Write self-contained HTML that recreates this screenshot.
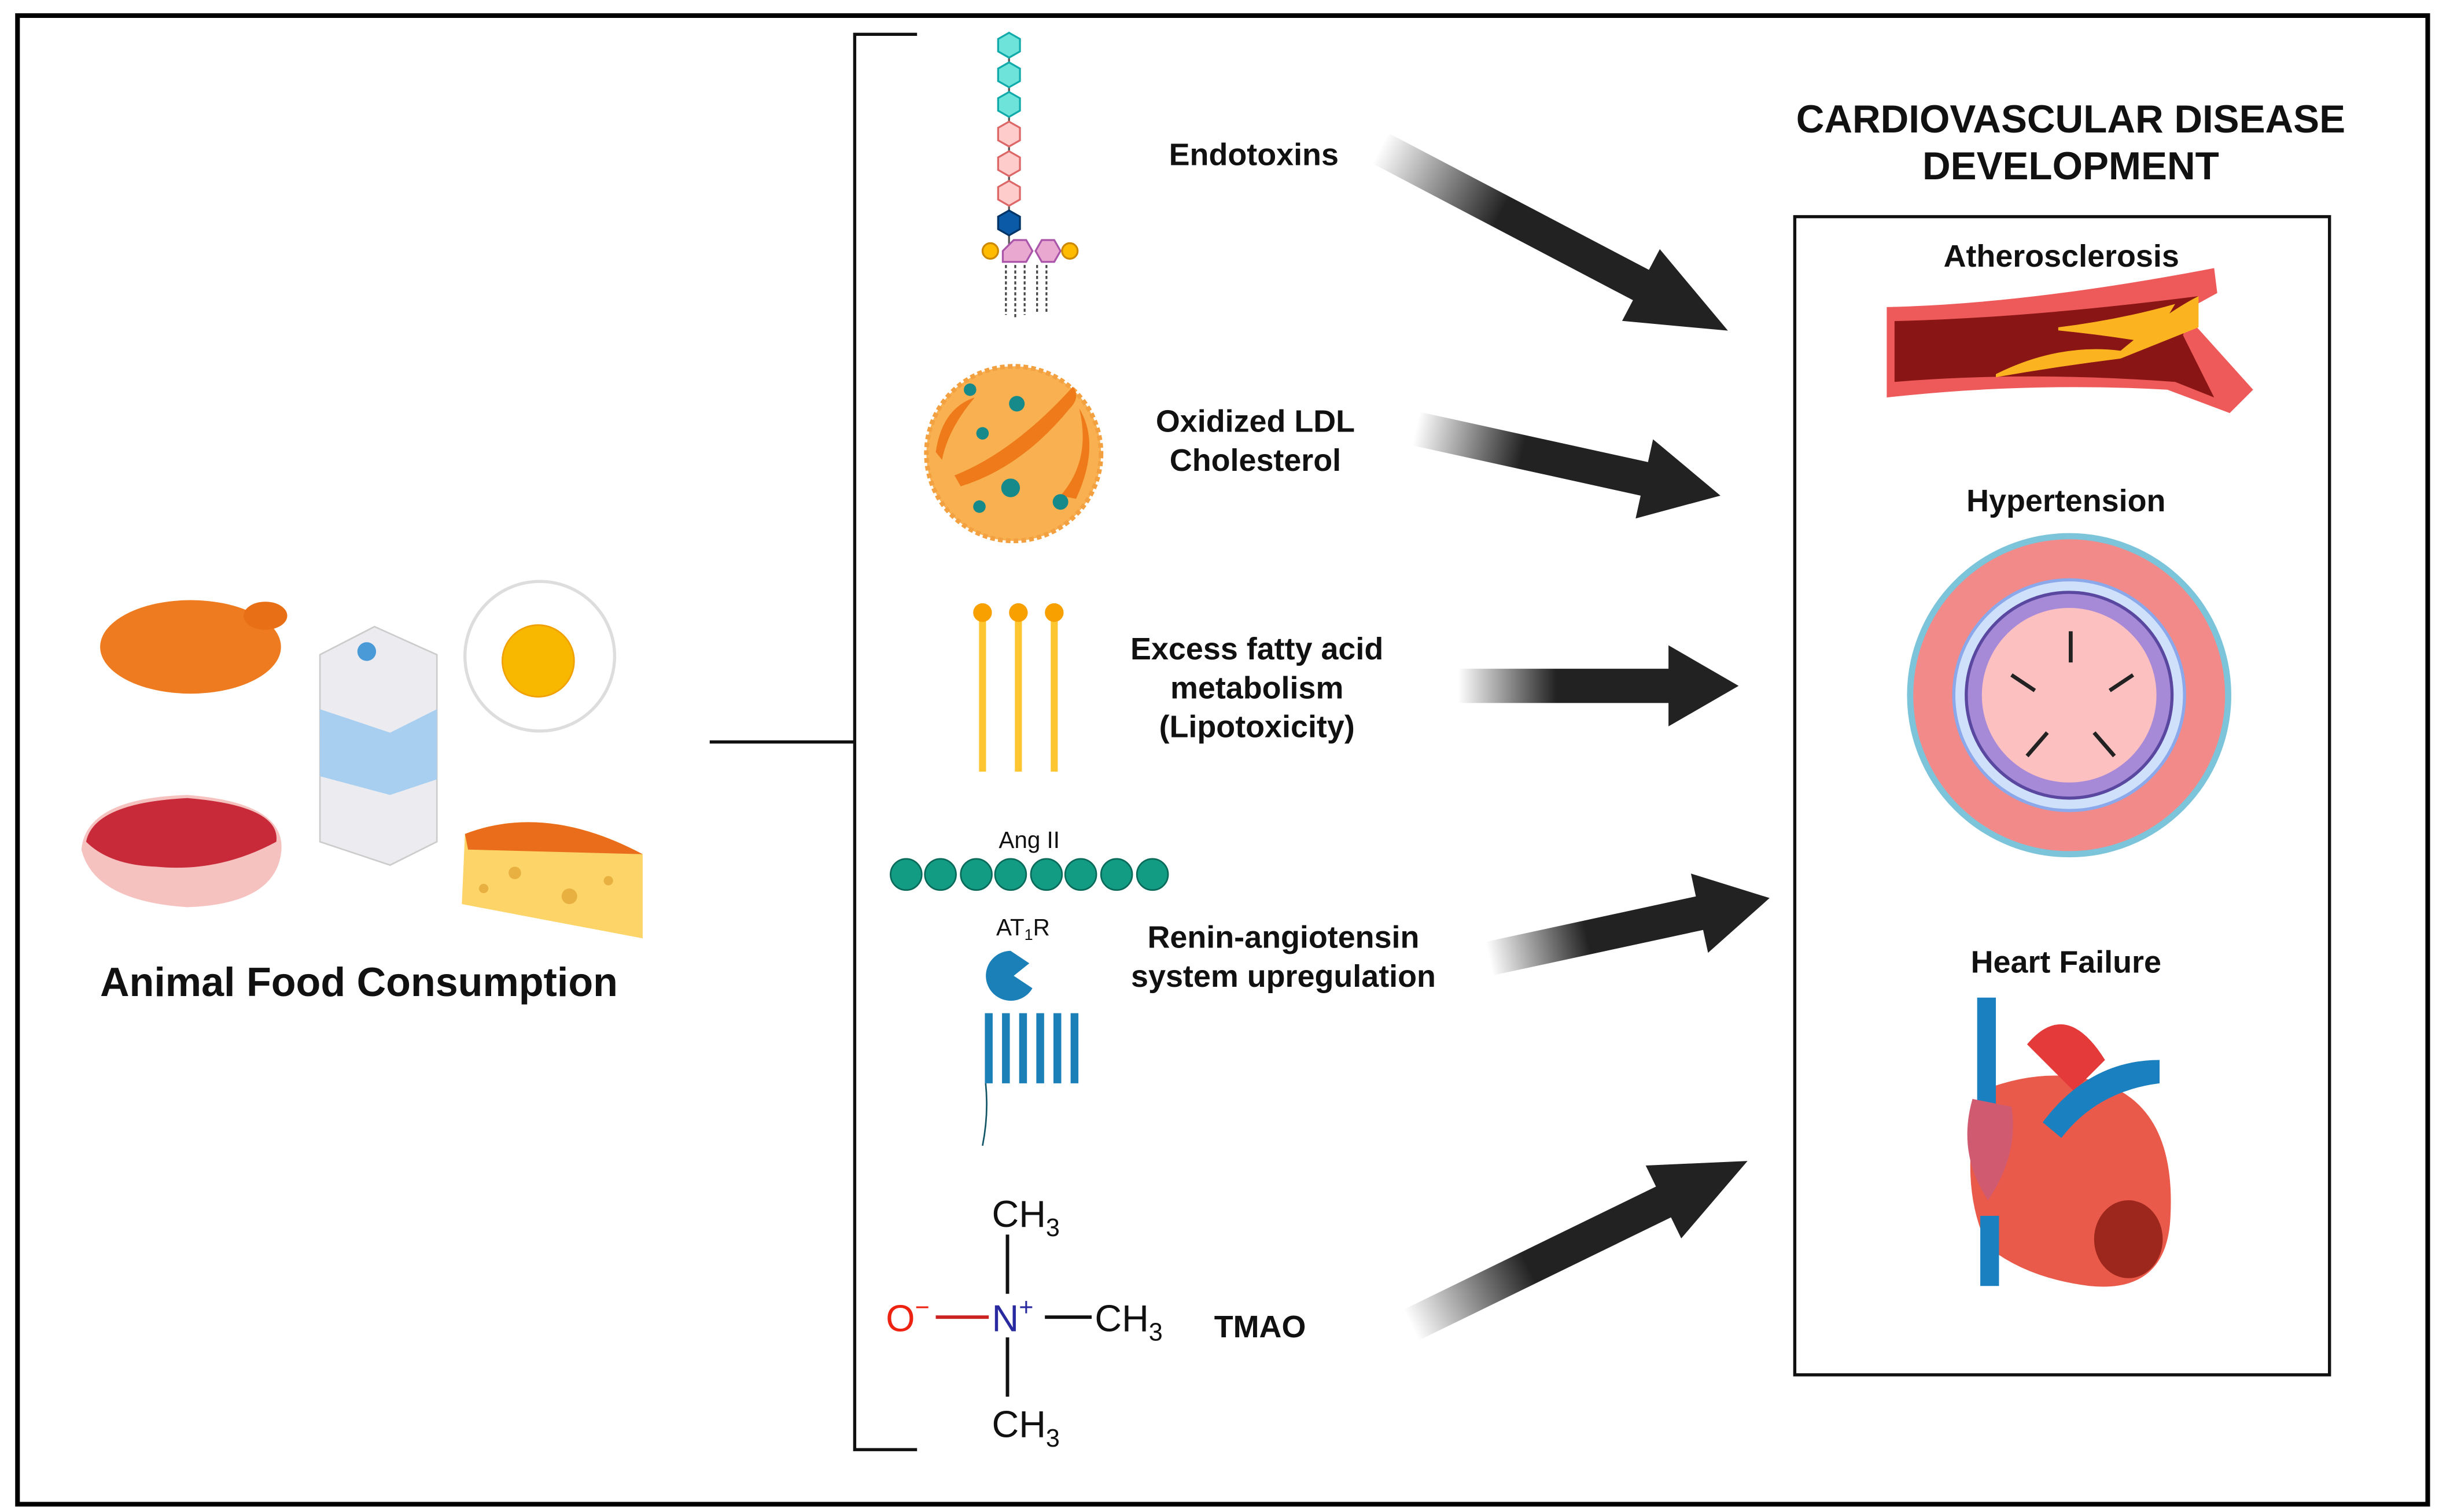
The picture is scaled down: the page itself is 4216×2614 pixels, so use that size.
<!DOCTYPE html>
<html><head><meta charset="utf-8"><style>
html,body{margin:0;padding:0;background:#fff}
svg{display:block}
text{font-family:"Liberation Sans",sans-serif}
</style></head><body>
<svg width="4216" height="2614" viewBox="0 0 1564 970" xmlns="http://www.w3.org/2000/svg">
<defs>
<linearGradient id="ag" x1="0" y1="0" x2="1" y2="0">
<stop offset="0" stop-color="#222" stop-opacity="0"/>
<stop offset="0.35" stop-color="#222" stop-opacity="1"/>
<stop offset="1" stop-color="#222"/>
</linearGradient>
<g id="arr"><path d="M0,-11 L150,-11 L150,-26 L200,0 L150,26 L150,11 L0,11 Z" fill="url(#ag)"/></g>
</defs>
<rect width="1564" height="970" fill="#fff"/>
<rect x="11" y="10" width="1546" height="955" fill="none" stroke="#000" stroke-width="3"/>
<!-- bracket -->
<path d="M588,22 H548 V930 H588 M455,476 H548" fill="none" stroke="#111" stroke-width="2"/>
<!-- right box -->
<rect x="1151" y="139" width="343" height="743" fill="none" stroke="#111" stroke-width="2"/>
<g font-weight="bold" text-anchor="middle" fill="#111">
<text x="1328" y="85" font-size="25">CARDIOVASCULAR DISEASE</text>
<text x="1328" y="115" font-size="25">DEVELOPMENT</text>
<text x="1322" y="171" font-size="20">Atherosclerosis</text>
<text x="1325" y="328" font-size="20">Hypertension</text>
<text x="1325" y="624" font-size="20">Heart Failure</text>
<text x="804" y="106" font-size="20">Endotoxins</text>
<text x="805" y="277" font-size="20">Oxidized LDL</text>
<text x="805" y="302" font-size="20">Cholesterol</text>
<text x="806" y="423" font-size="20">Excess fatty acid</text>
<text x="806" y="448" font-size="20">metabolism</text>
<text x="806" y="473" font-size="20">(Lipotoxicity)</text>
<text x="823" y="608" font-size="20">Renin-angiotensin</text>
<text x="823" y="633" font-size="20">system upregulation</text>
<text x="808" y="858" font-size="20">TMAO</text>
<text x="230" y="639" font-size="26">Animal Food Consumption</text>
</g>
<!-- arrows -->
<use href="#arr" transform="translate(885,95) rotate(27.7) scale(1.26,1)"/>
<use href="#arr" transform="translate(908,275) rotate(12.4) scale(1.0,1)"/>
<use href="#arr" transform="translate(935,440) scale(0.9,1)"/>
<use href="#arr" transform="translate(955,615) rotate(-12.2) scale(0.92,1)"/>
<use href="#arr" transform="translate(905,850) rotate(-26) scale(1.2,1)"/>
<!-- endotoxin chain -->
<g stroke-width="1.2">
<line x1="647" y1="30" x2="647" y2="160" stroke="#555"/>
<g fill="#6ee3da" stroke="#1aa">
<polygon points="640,25 647,21 654,25 654,33 647,37 640,33"/>
<polygon points="640,44 647,40 654,44 654,52 647,56 640,52"/>
<polygon points="640,63 647,59 654,63 654,71 647,75 640,71"/>
</g>
<g fill="#fcc" stroke="#d66">
<polygon points="640,82 647,78 654,82 654,90 647,94 640,90"/>
<polygon points="640,101 647,97 654,101 654,109 647,113 640,109"/>
<polygon points="640,120 647,116 654,120 654,128 647,132 640,128"/>
</g>
<polygon points="640,139 647,135 654,139 654,147 647,151 640,147" fill="#0a5aa8" stroke="#036"/>
<g fill="#e8a8d0" stroke="#a5a">
<polygon points="643,161 650,154 658,154 662,161 658,168 643,168"/>
<polygon points="664,161 668,154 676,154 680,161 676,168 668,168"/>
</g>
<circle cx="635" cy="161" r="5" fill="#fb0" stroke="#c80"/>
<circle cx="686" cy="161" r="5" fill="#fb0" stroke="#c80"/>
<path d="M645,170 v32 M651,170 v34 M657,170 v32 M665,170 v30 M671,170 v30" stroke="#444" stroke-dasharray="2,1.5"/>
</g>
<!-- LDL -->
<circle cx="650" cy="291" r="56" fill="#f8b050" stroke="#f3a040" stroke-width="3" stroke-dasharray="3,2"/>
<path d="M612,305 Q650,290 688,248 Q693,255 686,262 Q655,300 616,312 Z" fill="#ee7a1a"/>
<path d="M600,290 Q604,262 625,255 Q608,275 604,295 Z" fill="#ee7a1a"/>
<path d="M680,318 Q700,295 692,262 Q706,285 690,320 Z" fill="#ee7a1a"/>
<g fill="#168a8a"><circle cx="630" cy="278" r="4"/><circle cx="652" cy="259" r="5"/><circle cx="648" cy="313" r="6"/><circle cx="680" cy="322" r="5"/><circle cx="628" cy="325" r="4"/><circle cx="622" cy="250" r="4"/></g>
<!-- fatty acids -->
<g stroke="#fdc530" stroke-width="4.5"><line x1="630" y1="395" x2="630" y2="495"/><line x1="653" y1="395" x2="653" y2="495"/><line x1="676" y1="395" x2="676" y2="495"/></g>
<g fill="#f7a000"><circle cx="630" cy="393" r="6"/><circle cx="653" cy="393" r="6"/><circle cx="676" cy="393" r="6"/></g>
<!-- Ang II -->
<text x="660" y="544" font-size="15" text-anchor="middle" fill="#111">Ang II</text>
<g fill="#139c84" stroke="#0a6a5a"><circle cx="581" cy="561" r="10"/><circle cx="603" cy="561" r="10"/><circle cx="626" cy="561" r="10"/><circle cx="648" cy="561" r="10"/><circle cx="671" cy="561" r="10"/><circle cx="693" cy="561" r="10"/><circle cx="716" cy="561" r="10"/><circle cx="739" cy="561" r="10"/></g>
<text x="656" y="600" font-size="15" text-anchor="middle" fill="#111">AT<tspan font-size="10" dy="3">1</tspan><tspan dy="-3">R</tspan></text>
<path d="M648,610 a16,16 0 1 0 14,24 l-12,-8 l10,-8 z" fill="#1b7fb8"/>
<g fill="none" stroke="#1b7fb8" stroke-width="5"><path d="M634,650 v45 M645,650 v45 M656,650 v45 M667,650 v45 M678,650 v45 M689,650 v45"/></g>
<path d="M632,695 q2,20 -2,40" stroke="#156" fill="none"/>
<!-- TMAO -->
<g font-size="24" fill="#111">
<text x="636" y="787">CH<tspan font-size="16" dy="6">3</tspan></text>
<text x="636" y="922">CH<tspan font-size="16" dy="6">3</tspan></text>
<text x="702" y="854">CH<tspan font-size="16" dy="6">3</tspan></text>
<text x="568" y="854" fill="#e21">O<tspan font-size="16" dy="-10">−</tspan></text>
<text x="636" y="854" fill="#2a2aa0">N<tspan font-size="16" dy="-10">+</tspan></text>
</g>
<g stroke-width="2.2"><line x1="646" y1="792" x2="646" y2="830" stroke="#111"/><line x1="646" y1="858" x2="646" y2="896" stroke="#111"/><line x1="670" y1="845" x2="700" y2="845" stroke="#111"/><line x1="600" y1="845" x2="634" y2="845" stroke="#c22"/></g>
<!-- atherosclerosis -->
<path d="M1210,197 Q1300,195 1420,172 L1422,188 L1400,200 L1445,250 L1430,265 L1390,250 Q1300,245 1210,255 Z" fill="#ee5a5a"/>
<path d="M1215,206 Q1300,204 1410,190 L1400,215 L1420,255 L1395,245 Q1300,238 1215,245 Z" fill="#8a1515"/>
<path d="M1280,240 Q1320,220 1360,225 Q1390,200 1410,190 L1410,210 L1360,230 Q1320,235 1280,242 Z" fill="#fbb320"/>
<path d="M1320,210 Q1360,205 1395,195 L1380,220 Q1350,215 1320,212 Z" fill="#fbb320"/>
<!-- hypertension -->
<circle cx="1327" cy="446" r="102" fill="#f28a8a" stroke="#7cc4da" stroke-width="4"/>
<circle cx="1327" cy="446" r="74" fill="#cfe0fb" stroke="#8aa8ea" stroke-width="2"/>
<circle cx="1327" cy="446" r="66" fill="#a68ad8" stroke="#5a48a0" stroke-width="2"/>
<circle cx="1327" cy="446" r="56" fill="#fcc0c0"/>
<g stroke="#222" stroke-width="2.5"><line x1="1328" y1="405" x2="1328" y2="425"/><line x1="1290" y1="433" x2="1305" y2="443"/><line x1="1368" y1="433" x2="1353" y2="443"/><line x1="1300" y1="485" x2="1313" y2="470"/><line x1="1356" y1="485" x2="1343" y2="470"/></g>
<!-- heart -->
<path d="M1270,700 Q1255,760 1275,800 Q1300,820 1340,825 Q1390,830 1392,780 Q1395,720 1360,700 Q1320,680 1270,700 Z" fill="#ea5a4a"/>
<path d="M1300,670 Q1325,640 1350,680 L1330,700 Z" fill="#e53a3a"/>
<rect x="1268" y="640" width="12" height="80" fill="#1a80c0"/>
<path d="M1310,720 Q1340,680 1385,680 L1385,695 Q1345,700 1322,730 Z" fill="#1a80c0"/>
<rect x="1270" y="780" width="12" height="45" fill="#1a80c0"/>
<path d="M1265,705 Q1255,740 1275,770 Q1295,740 1290,710 Z" fill="#d05a70"/>
<ellipse cx="1365" cy="795" rx="22" ry="25" fill="#8a1a10" opacity="0.8"/>
<!-- foods -->
<ellipse cx="122" cy="415" rx="58" ry="30" fill="#ee7b1f"/>
<ellipse cx="170" cy="395" rx="14" ry="9" fill="#e86f15"/>
<path d="M52,545 Q55,512 120,510 Q185,515 180,548 Q175,580 120,582 Q60,578 52,545 Z" fill="#f6c2c0"/>
<path d="M55,540 Q60,515 120,512 Q180,517 177,540 Q140,560 100,556 Q70,555 55,540 Z" fill="#c82a3a"/>
<path d="M205,420 L240,402 L280,420 L280,540 L250,555 L205,540 Z" fill="#ececf0" stroke="#ccc"/>
<path d="M205,455 L250,470 L280,455 L280,500 L250,510 L205,498 Z" fill="#a8cff0"/>
<circle cx="235" cy="418" r="6" fill="#4a9ad8"/>
<ellipse cx="346" cy="421" rx="48" ry="48" fill="#fff" stroke="#ddd" stroke-width="2"/>
<circle cx="345" cy="424" r="23" fill="#f8b800" stroke="#f0a000"/>
<path d="M298,535 Q350,515 412,548 L412,602 L296,580 Z" fill="#fcd467"/>
<path d="M298,535 Q350,515 412,548 L300,545 Z" fill="#e96d1b"/>
<g fill="#e7b040"><circle cx="330" cy="560" r="4"/><circle cx="365" cy="575" r="5"/><circle cx="390" cy="565" r="3"/><circle cx="310" cy="570" r="3"/></g>
</svg>
</body></html>
